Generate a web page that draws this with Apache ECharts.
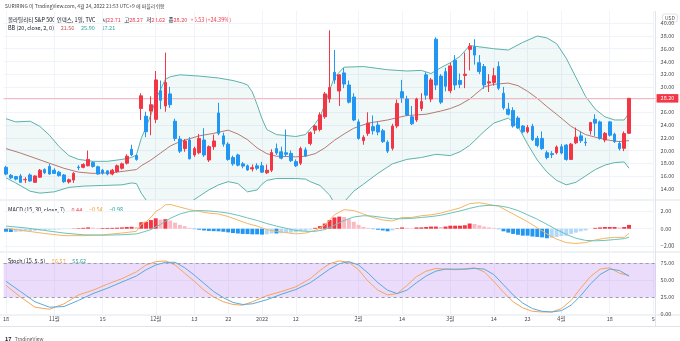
<!DOCTYPE html>
<html>
<head>
<meta charset="utf-8">
<script src="https://cdn.jsdelivr.net/npm/echarts@6/dist/echarts.min.js"></script>
<style>
  html, body { margin: 0; padding: 0; background: #ffffff; }
  #chart { width: 680px; height: 341px; }
</style>
</head>
<body>
<div id="chart"></div>
<script>
// ---- daily bars (Oct 18 2021 .. Apr 22 2022), one entry per trading day ----
const opens  = [17.35,16.1,15.9,16.0,15.4,16.15,15.0,15.8,17.0,17.5,16.9,16.6,16.15,15.05,15.35,17.4,17.35,17.6,18.1,17.45,
                16.9,16.8,16.3,16.7,17.2,18.0,20.2,19.2,26.6,25.4,26.2,24.9,29.4,27.0,28.9,24.6,21.8,20.3,21.65,19.3,
                19.65,21.65,18.5,20.6,25.9,22.3,21.0,18.9,19.3,17.9,17.6,17.1,17.6,17.6,16.5,16.9,20.3,19.8,19.65,19.55,
                18.25,18.0,20.1,21.1,23.2,23.3,25.3,28.1,32.3,29.35,32.2,30.3,28.4,24.5,21.55,22.7,23.75,24.0,23.1,21.3,
                20.35,23.85,29.25,28.1,25.3,24.8,26.6,31.9,28.1,37.5,31.7,32.4,29.4,34.2,31.0,31.8,35.9,36.3,33.8,33.2,
                30.6,30.7,33.2,29.0,26.5,26.3,25.1,23.85,22.95,23.8,21.9,21.9,19.65,19.5,19.65,20.6,20.85,18.6,21.2,22.3,
                21.3,23.1,24.9,24.5,21.65,24.5,22.55,21.1,20.35,22.71];
const highs  = [17.6,16.3,16.0,16.3,15.8,16.4,16.1,17.1,17.2,17.9,17.2,16.8,16.3,15.6,16.6,17.7,18.0,20.0,18.3,17.6,
                17.1,16.9,17.1,17.8,18.1,19.4,20.9,19.4,29.0,26.1,28.5,32.5,31.0,35.4,30.0,25.0,22.3,21.8,22.1,20.6,
                22.6,23.5,20.8,22.5,27.5,22.8,21.3,19.2,19.5,18.2,17.8,17.8,18.0,18.2,17.8,20.2,21.1,20.6,23.3,20.0,
                18.6,20.6,20.5,23.0,24.0,26.0,29.2,38.9,35.8,32.0,33.0,31.0,29.0,24.9,22.4,26.0,25.5,24.5,23.4,21.6,
                24.2,28.0,31.1,28.6,27.0,28.3,29.0,32.3,31.4,37.8,32.0,33.0,33.8,35.0,32.1,35.4,36.9,37.5,35.0,33.6,
                32.0,33.0,34.0,30.0,27.5,26.8,25.4,24.0,24.0,24.2,22.3,23.0,20.0,19.9,20.8,21.0,21.0,21.2,23.6,23.0,
                22.0,24.5,25.7,24.7,22.9,24.6,22.8,21.5,23.0,28.27];
const lows   = [16.1,15.5,15.3,14.9,14.9,15.1,14.9,15.7,16.3,16.2,16.3,15.9,14.9,14.8,14.9,16.9,17.2,17.5,17.3,16.2,
                16.2,16.1,16.1,16.5,17.0,17.8,19.1,18.4,24.8,22.1,22.4,24.3,26.5,26.1,26.7,21.5,19.6,19.8,18.6,19.0,
                19.4,19.0,18.2,20.1,22.4,20.6,18.4,17.6,17.5,17.2,16.8,16.7,16.9,16.5,16.3,16.6,19.3,18.6,19.0,18.2,
                17.4,17.7,19.0,20.8,22.6,23.0,25.0,27.5,30.5,27.0,29.8,27.4,24.6,21.7,20.9,22.3,22.5,22.4,21.2,19.6,
                20.0,23.5,27.5,25.4,24.0,24.5,26.2,28.0,27.6,29.5,27.3,29.3,29.0,29.5,29.8,29.8,32.6,33.5,32.0,29.7,
                29.2,30.2,29.5,26.4,25.5,23.6,23.4,22.7,22.7,21.5,20.5,20.1,18.6,18.8,19.4,19.4,18.4,18.5,21.0,21.2,
                20.7,22.5,22.3,21.7,21.3,22.2,21.2,20.0,19.9,22.62];
const closes = [16.3,15.7,15.5,15.0,15.45,15.2,16.0,16.9,16.5,16.3,16.4,16.05,15.1,15.4,16.4,17.3,17.8,18.6,17.5,16.3,
                16.45,16.3,16.9,17.6,17.9,19.1,19.3,18.6,28.6,22.96,27.2,31.1,27.9,30.7,27.2,21.9,19.9,21.5,18.7,20.3,
                21.9,19.3,20.6,21.5,22.7,21.0,18.6,17.9,17.7,17.55,16.95,17.3,17.2,16.6,16.9,19.7,19.6,18.8,19.4,18.4,
                17.6,20.3,19.15,22.8,23.85,25.6,28.9,29.9,31.1,31.9,30.45,27.6,24.8,21.9,22.07,24.3,23.1,22.9,21.4,19.9,
                23.85,27.4,28.3,25.6,24.2,28.1,27.7,28.7,31.1,30.3,27.6,30.1,33.3,30.3,30.4,32.0,36.4,35.0,32.4,30.3,
                30.8,31.75,29.8,26.7,25.7,23.85,23.55,22.95,23.6,21.7,20.8,20.3,18.9,19.35,20.55,19.6,18.6,21.0,22.1,21.55,
                21.2,24.4,24.3,21.9,22.7,22.4,21.4,20.3,22.67,28.20];

// ---- Bollinger Bands (20, close, 2): [bar index, value] ----
const bbUpper = [[0,25.0],[2,24.5],[5,24.6],[7,23.8],[9,22.4],[11,20.6],[13,19.2],[15,18.6],[18,18.3],[21,18.3],[24,18.6],
                 [26,18.9],[27,19.3],[28,21.9],[29,23.7],[30,25.6],[31,28.0],[32,29.6],[33,31.2],[34,31.6],[36,31.9],
                 [40,31.7],[44,31.4],[47,31.0],[49,30.6],[50,30.3],[51,29.2],[52,27.2],[53,25.0],[54,23.3],[56,22.5],
                 [60,22.2],[62,22.5],[63,23.4],[64,24.2],[65,25.3],[66,27.2],[67,29.5],[68,31.5],[70,33.1],[74,33.2],
                 [79,32.7],[83,32.5],[86,32.6],[88,32.1],[90,33.0],[92,33.8],[94,34.8],[96,36.5],[99,36.2],[101,36.0],
                 [104,35.8],[107,37.0],[110,38.0],[112,37.7],[114,36.8],[116,34.5],[118,31.5],[120,28.5],[122,26.5],
                 [124,25.3],[126,24.8],[128,24.8],[129,25.90]];
const bbBasis = [[0,20.3],[3,19.6],[6,18.8],[9,18.0],[12,17.2],[15,16.6],[18,16.4],[22,16.5],[26,16.9],[27,17.0],[28,17.6],
                 [30,18.5],[32,19.6],[34,20.7],[36,21.4],[40,22.3],[43,22.7],[46,23.2],[48,22.6],[50,21.7],[52,20.4],
                 [54,19.5],[56,19.1],[60,19.0],[62,19.1],[64,19.5],[66,20.4],[68,21.6],[70,22.6],[72,23.5],[75,24.3],
                 [79,24.8],[83,25.5],[87,25.7],[90,26.2],[92,26.6],[94,27.2],[96,28.1],[99,30.0],[101,30.4],[104,30.6],
                 [106,30.2],[108,29.3],[110,28.2],[112,26.9],[114,25.7],[117,23.8],[120,22.5],[123,21.9],[125,21.6],
                 [127,21.4],[129,21.56]];
const bbLower = [[0,15.7],[2,14.9],[5,13.6],[7,13.3],[10,13.5],[13,14.2],[16,14.4],[20,14.5],[24,14.6],[26,14.9],[27,14.8],
                 [28,13.3],[29,12.2],[30,11.3],[31,10.2],[32,9.7],[34,9.7],[36,10.8],[38,11.8],[40,12.8],[42,13.8],
                 [44,14.6],[46,15.1],[48,14.8],[50,13.5],[52,13.8],[53,14.7],[54,15.3],[56,15.6],[60,15.6],[62,15.5],
                 [63,15.1],[65,14.5],[67,13.0],[68,11.7],[70,11.9],[72,13.6],[74,14.7],[77,16.4],[80,17.9],[83,18.6],
                 [86,18.9],[89,19.4],[92,19.2],[94,19.8],[96,20.8],[99,23.0],[101,24.3],[104,25.1],[106,23.8],[108,21.0],
                 [110,18.5],[112,16.6],[114,15.3],[116,14.6],[118,15.0],[120,16.0],[122,17.0],[124,17.7],[126,18.1],
                 [128,18.2],[129,17.21]];

// ---- MACD (15, 30, close, 7) ----
const macdHist = [-0.35,-0.38,-0.36,-0.33,-0.3,-0.27,-0.22,-0.18,-0.15,-0.12,-0.1,-0.08,-0.05,-0.04,0.03,0.06,0.1,0.15,0.12,0.08,
                  0.08,0.09,0.1,0.12,0.15,0.2,0.22,0.18,0.75,0.8,1.0,1.2,1.05,1.1,0.95,0.7,0.45,0.3,0.1,-0.05,
                  -0.12,-0.2,-0.25,-0.28,-0.3,-0.35,-0.42,-0.5,-0.55,-0.6,-0.62,-0.65,-0.65,-0.68,-0.65,-0.55,-0.55,-0.52,-0.48,-0.45,
                  -0.42,-0.3,-0.25,-0.1,0.1,0.3,0.6,1.0,1.3,1.4,1.35,1.1,0.8,0.45,0.2,0.1,-0.05,-0.12,-0.2,-0.3,
                  -0.2,0.05,0.15,0.1,0.05,0.15,0.15,0.2,0.25,0.25,0.2,0.25,0.35,0.35,0.35,0.4,0.6,0.55,0.4,0.25,
                  0.15,0.1,-0.05,-0.3,-0.45,-0.6,-0.7,-0.8,-0.8,-0.9,-0.95,-1.0,-1.1,-1.05,-0.95,-0.85,-0.8,-0.6,-0.45,-0.3,
                  -0.2,0.0,0.1,0.15,0.2,0.2,0.2,0.15,0.2,0.44];
const macdLine = [[0,0.05],[4,-0.25],[8,-0.55],[12,-0.8],[16,-0.8],[20,-0.7],[24,-0.5],[27,-0.3],[28,0.5],[29,0.8],[30,1.3],
                  [31,2.0],[32,2.3],[33,2.75],[34,2.8],[36,2.5],[38,2.2],[40,2.0],[42,1.8],[44,1.7],[46,1.4],[48,1.0],
                  [50,0.6],[52,0.3],[54,-0.1],[56,-0.3],[58,-0.45],[60,-0.6],[62,-0.5],[64,-0.2],[66,0.4],[68,1.6],
                  [70,2.2],[72,2.1],[74,1.7],[76,1.3],[78,1.0],[80,0.9],[82,1.3],[84,1.3],[86,1.5],[88,1.6],[90,1.8],
                  [92,2.1],[94,2.4],[96,2.9],[98,3.0],[100,2.8],[102,2.6],[104,2.0],[106,1.4],[108,0.8],[110,0.1],
                  [112,-0.6],[114,-1.2],[116,-1.6],[118,-1.7],[120,-1.6],[122,-1.3],[124,-1.1],[126,-1.0],[128,-1.0],[129,-0.54]];
const macdSignal = [[0,0.3],[4,0.1],[8,-0.2],[12,-0.5],[16,-0.7],[20,-0.75],[24,-0.7],[27,-0.6],[28,-0.45],[30,-0.1],
                    [32,0.5],[34,1.2],[36,1.7],[38,2.0],[40,2.1],[42,2.05],[44,1.95],[46,1.8],[48,1.55],[50,1.25],
                    [52,0.95],[54,0.6],[56,0.3],[58,0.05],[60,-0.2],[62,-0.3],[64,-0.3],[66,-0.1],[68,0.4],[70,0.95],
                    [72,1.35],[74,1.5],[76,1.45],[78,1.3],[80,1.15],[82,1.15],[84,1.2],[86,1.3],[88,1.4],[90,1.55],
                    [92,1.8],[94,2.05],[96,2.35],[98,2.6],[100,2.7],[102,2.65],[104,2.45],[106,2.1],[108,1.6],[110,1.1],
                    [112,0.5],[114,-0.1],[116,-0.65],[118,-1.1],[120,-1.35],[122,-1.4],[124,-1.35],[126,-1.25],
                    [128,-1.15],[129,-0.98]];

// ---- Stochastic (15, 5, 5) ----
const stochK = [[0,42],[3,25],[6,10],[9,7],[12,15],[15,28],[18,35],[21,44],[24,52],[27,62],[29,72],[31,77],[33,78],
                [35,72],[37,60],[39,48],[41,35],[43,25],[45,18],[47,14],[49,13],[51,18],[54,27],[57,33],[60,40],[63,52],
                [65,64],[67,74],[69,78],[71,76],[73,65],[75,48],[77,35],[79,28],[81,30],[83,42],[85,55],[87,63],[89,67],
                [91,66],[93,65],[95,66],[97,68],[99,62],[101,48],[103,32],[105,18],[107,9],[109,4],[111,3],[113,3],
                [115,8],[117,20],[119,38],[121,55],[123,66],[125,68],[127,60],[129,56.57]];
const stochD = [[0,48],[3,33],[6,18],[9,10],[12,11],[15,20],[18,30],[21,38],[24,47],[27,56],[29,65],[31,72],[33,76],
                [35,76],[37,68],[39,57],[41,45],[43,33],[45,24],[47,17],[49,14],[51,15],[54,21],[57,29],[60,36],[63,46],
                [65,56],[67,66],[69,74],[71,77],[73,72],[75,60],[77,46],[79,35],[81,30],[83,35],[85,46],[87,56],[89,63],
                [91,66],[93,66],[95,66],[97,67],[99,66],[101,58],[103,43],[105,28],[107,16],[109,8],[111,4],[113,3],
                [115,5],[117,13],[119,27],[121,44],[123,58],[125,66],[127,64],[129,55.62]];

// ---- axis ticks ----
const timeTicks = [[0,'18'],[10,'11월'],[20,'15'],[31,'12월'],[39,'13'],[46,'22'],[53,'2022'],[60,'12'],[73,'2월'],
                   [82,'14'],[92,'3월'],[101,'14'],[108,'23'],[115,'4월'],[125,'18'],[134,'5']];
const priceTicks = [14,16,18,20,22,24,26,28,30,32,34,36,38,40];
const macdTicks = [-2,0,2];
const stochTicks = [0,25,50,75];

// ---- layout ----
const FONT = '"Noto Sans CJK KR", "Noto Sans", sans-serif';
const FS = 5.5;
const SLOTS = 135;                 // trading-day slots incl. blank space on the right
const PLOT_L = 3.6, PLOT_R = 655.6;
const UP = '#f23645', DOWN = '#2196f3';
const TXT = '#131722', AXT = '#4a4a4a', GRIDC = '#f0f3fa', SEP = '#e0e3eb';

const cats = Array.from({length: SLOTS}, (_, i) => String(i));
const tickMap = new Map(timeTicks);
const isTick = (i) => tickMap.has(i);

const panes = [
  {top: 11,    bottom: 199.5, min: 12.296, max: 41.934, ticks: priceTicks},
  {top: 200.5, bottom: 251.5, min: -2.629, max: 3.257, ticks: macdTicks},
  {top: 252.5, bottom: 314.5, min: -0.7,   max: 90.4,  ticks: stochTicks}
];

const grids = panes.map(p => ({left: PLOT_L, width: PLOT_R - PLOT_L, top: p.top, height: p.bottom - p.top}));
const xAxes = panes.map((p, gi) => ({
  type: 'category', gridIndex: gi, data: cats, boundaryGap: true,
  axisLine: {show: false}, axisTick: {show: false},
  axisLabel: {show: gi === 2, interval: (i) => isTick(i), formatter: (v) => tickMap.get(Number(v)) || '',
              fontSize: FS, color: AXT, margin: 2, fontFamily: FONT},
  splitLine: {show: true, interval: (i) => isTick(i), alignWithLabel: true, lineStyle: {color: GRIDC, width: 1}}
}));
const yAxes = panes.map((p, gi) => ({
  type: 'value', gridIndex: gi, position: 'right', min: p.min, max: p.max, scale: true,
  axisLine: {show: false},
  axisTick: {show: false, customValues: p.ticks},
  axisLabel: {customValues: p.ticks, formatter: (v) => (v < 0 ? '\u2212' : '') + Math.abs(v).toFixed(2),
              fontSize: FS, color: AXT, margin: 5, fontFamily: FONT},
  splitLine: {show: true, lineStyle: {color: GRIDC, width: 1}}
}));

const last = closes.length - 1;
const chg = closes[last] - closes[last - 1];
const chgPct = chg / closes[last - 1] * 100;

// histogram colouring: strong when moving away from zero, pale when moving back
const histData = macdHist.map((v, i) => {
  const prev = i > 0 ? macdHist[i - 1] : v;
  let c;
  if (v >= 0) c = v >= prev ? '#f23645' : '#f8bbc5';
  else c = v <= prev ? '#2196f3' : '#b3d9f8';
  return {value: [i, v], itemStyle: {color: c}};
});

const line = (name, data, color, xi, yi, extra) => Object.assign({
  name, type: 'line', xAxisIndex: xi, yAxisIndex: yi, data, showSymbol: false, symbol: 'none',
  lineStyle: {color, width: 1}, silent: true, z: 4, animation: false
}, extra || {});

const rs = (fill) => ({fill, fontSize: FS, fontFamily: FONT});

const chart = echarts.init(document.getElementById('chart'), null, {renderer: 'canvas'});
chart.setOption({
  animation: false,
  backgroundColor: '#ffffff',
  textStyle: {fontFamily: FONT},
  grid: grids,
  xAxis: xAxes,
  yAxis: yAxes,
  series: [
    // band fill between upper and lower Bollinger lines
    {
      type: 'custom', xAxisIndex: 0, yAxisIndex: 0, data: [[0, 0]], silent: true, z: 1, clip: true,
      renderItem: (params, api) => {
        const pts = bbUpper.map(d => api.coord(d))
          .concat(bbLower.slice().reverse().map(d => api.coord(d)));
        return {type: 'polygon', shape: {points: pts}, style: {fill: 'rgba(25,140,135,0.06)'}};
      }
    },
    line('BB upper', bbUpper, '#5cb3aa', 0, 0),
    line('BB lower', bbLower, '#5cb3aa', 0, 0),
    line('BB basis', bbBasis, '#b57a74', 0, 0),
    {
      name: 'VIX', type: 'candlestick', xAxisIndex: 0, yAxisIndex: 0, z: 5, barWidth: '66%',
      data: opens.map((o, i) => [o, closes[i], lows[i], highs[i]]),
      itemStyle: {color: UP, color0: DOWN, borderColor: UP, borderColor0: DOWN, borderWidth: 1},
      markLine: {
        symbol: 'none', silent: true, animation: false,
        data: [{yAxis: closes[last]}],
        lineStyle: {color: '#f9b8bd', width: 1, type: 'solid'},
        label: {position: 'end', distance: 1, formatter: (p) => p.value.toFixed(2), color: '#fff',
                backgroundColor: UP, padding: [2, 4, 1, 4], fontSize: FS, fontFamily: FONT}
      }
    },
    {
      name: 'Histogram', type: 'bar', xAxisIndex: 1, yAxisIndex: 1, data: histData,
      barWidth: '82%', silent: true, z: 2, animation: false
    },
    line('MACD', macdLine, '#f7b463', 1, 1),
    line('Signal', macdSignal, '#6cc3b9', 1, 1),
    line('%K', stochK, '#f6a55a', 2, 2, {
      markArea: {silent: true, data: [[{yAxis: 25}, {yAxis: 75}]], itemStyle: {color: 'rgba(178,120,240,0.26)'}},
      markLine: {symbol: 'none', silent: true, data: [{yAxis: 25}, {yAxis: 75}], label: {show: false},
                 lineStyle: {color: '#a09aa8', width: 1, type: [3, 3]}}
    }),
    line('%D', stochD, '#5aa9da', 2, 2)
  ],
  graphic: [
    {type: 'text', left: 5, top: 4, style: {text: 'SURIRING 이 TradingView.com, 4월 24, 2022 21:53 UTC+9 에 퍼블리쉬함',
      fill: '#444', fontSize: 5, fontFamily: FONT}},
    {type: 'text', left: 8, top: 13.5, style: {
      text: '{t|볼라틸리티 S&P 500 인덱스, 1일, TVC}  {t|시}{v|' + opens[last].toFixed(2) + '} {t|고}{v|' + highs[last].toFixed(2) +
            '} {t|저}{v|' + lows[last].toFixed(2) + '} {t|종}{v|' + closes[last].toFixed(2) + '} {v|+' + chg.toFixed(2) +
            ' (+' + chgPct.toFixed(2) + '%)}',
      rich: {t: rs(TXT), v: rs(UP)}}},
    {type: 'text', left: 8, top: 21.5, style: {
      text: '{t|BB (20, close, 2, 0)}  {b|' + bbBasis[bbBasis.length - 1][1].toFixed(2) + '}  {g|' +
            bbUpper[bbUpper.length - 1][1].toFixed(2) + '}  {g|' + bbLower[bbLower.length - 1][1].toFixed(2) + '}',
      rich: {t: rs(TXT), b: rs('#d05050'), g: rs('#2aa39a')}}},
    {type: 'text', left: 8, top: 203.5, style: {
      text: '{t|MACD (15, 30, close, 7)}  {r|' + macdHist[last].toFixed(2) + '}  {o|\u2212' +
            Math.abs(macdLine[macdLine.length - 1][1]).toFixed(2) + '}  {g|\u2212' +
            Math.abs(macdSignal[macdSignal.length - 1][1]).toFixed(2) + '}',
      rich: {t: rs(TXT), r: rs(UP), o: rs('#f5a030'), g: rs('#2aa39a')}}},
    {type: 'text', left: 8, top: 254.5, style: {
      text: '{t|Stoch (15, 5, 5)}  {o|' + stochK[stochK.length - 1][1].toFixed(2) + '}  {g|' +
            stochD[stochD.length - 1][1].toFixed(2) + '}',
      rich: {t: rs(TXT), o: rs('#f5a030'), g: rs('#2aa39a')}}},
    {type: 'text', left: 662, top: 13.5, style: {text: 'USD', fill: AXT, fontSize: 5, fontFamily: FONT,
      backgroundColor: '#fff', borderColor: SEP, borderWidth: 1, borderRadius: 2, padding: [1, 2]}},
    // pane separators and frame
    {type: 'line', shape: {x1: 0, y1: 200, x2: 680, y2: 200}, style: {stroke: SEP, lineWidth: 1}},
    {type: 'line', shape: {x1: 0, y1: 252, x2: 680, y2: 252}, style: {stroke: SEP, lineWidth: 1}},
    {type: 'line', shape: {x1: 0, y1: 315, x2: 680, y2: 315}, style: {stroke: SEP, lineWidth: 1}},
    {type: 'line', shape: {x1: 0, y1: 326.5, x2: 680, y2: 326.5}, style: {stroke: SEP, lineWidth: 1}},
    {type: 'line', shape: {x1: 655.5, y1: 11, x2: 655.5, y2: 327}, style: {stroke: SEP, lineWidth: 1}},
    {type: 'text', left: 5, top: 333, style: {text: '{l|17} {t|TradingView}',
      rich: {l: {fill: '#131722', fontSize: 5.5, fontWeight: 'bold', fontFamily: FONT},
             t: {fill: '#555', fontSize: 5, fontFamily: FONT}}}}
  ]
});
</script>
</body>
</html>
